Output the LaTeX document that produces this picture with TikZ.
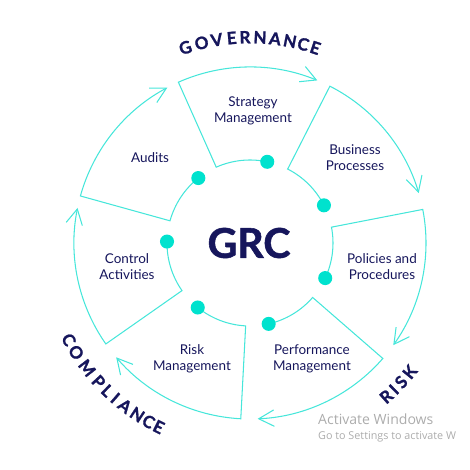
\documentclass[tikz,border=0pt]{standalone}
\usepackage{fontspec}
\setmainfont{Lato}
\newfontfamily\headfont{Lato}[BoldFeatures={FakeBold=1.3}]
\newfontfamily\wmfont{Open Sans}
\usetikzlibrary{arrows.meta}

\definecolor{grcnavy}{RGB}{22,22,92}
\definecolor{grcline}{RGB}{70,230,218}
\definecolor{grcdot}{RGB}{0,226,206}
\definecolor{wmgray}{RGB}{172,172,172}

\tikzset{
	segline/.style={draw=grcline, line width=0.9pt, -{Straight Barb[length=13pt,width=14pt]}},
	gdot/.style={circle, fill=grcdot, minimum size=12pt, inner sep=0pt},
	lbl/.style={text=grcnavy, font=\fontsize{11.5}{13.8}\selectfont, align=center},
	headch/.style={text=grcnavy, font=\headfont\fontsize{14.5}{14.5}\selectfont\bfseries, anchor=base, inner sep=0pt},
	wm/.style={text=wmgray, anchor=base west, inner sep=0pt}
}

\begin{document}
\begin{tikzpicture}[x=0.03cm, y=0.03cm]
				\useasboundingbox (-250,-227) rectangle (220,243);
				% the seven segments: inner arc, side, outer arc with arrow
				\draw[segline] (78:83) arc[start angle=78, end angle=114, radius=83] -- (114:176) arc[start angle=114, end angle=67.5, radius=176];
				\draw[segline] (27:83) arc[start angle=27, end angle=63, radius=83] -- (63:176) arc[start angle=63, end angle=16.5, radius=176];
				\draw[segline] (-25:83) arc[start angle=-25, end angle=11, radius=83] -- (11:176) arc[start angle=11, end angle=-35.5, radius=176];
				\draw[segline] (-77:83) arc[start angle=-77, end angle=-41, radius=83] -- (-41:176) arc[start angle=-41, end angle=-87.5, radius=176];
				\draw[segline] (-129:83) arc[start angle=-129, end angle=-93, radius=83] -- (-93:176) arc[start angle=-93, end angle=-139.5, radius=176];
				\draw[segline] (-181:83) arc[start angle=-181, end angle=-145, radius=83] -- (-145:176) arc[start angle=-145, end angle=-191.5, radius=176];
				\draw[segline] (128.5:83) arc[start angle=128.5, end angle=164.5, radius=83] -- (164.5:176) arc[start angle=164.5, end angle=118, radius=176];
				% dots on the inner ring
				\node[gdot] (dSM) at (78:83) {};
				\node[gdot] (dBP) at (27:83) {};
				\node[gdot] (dPP) at (-25:83) {};
				\node[gdot] (dPM) at (-77:83) {};
				\node[gdot] (dRM) at (-129:83) {};
				\node[gdot] (dCA) at (-181:83) {};
				\node[gdot] (dAU) at (128.5:83) {};
				% centre and labels
				\node[text=grcnavy, font=\headfont\fontsize{35}{35}\selectfont\bfseries] (GRC) at (-1,0) {GRC};
				\node[lbl] (SM) at (3,132) {Strategy\\Management};
				\node[lbl] (BP) at (105,85) {Business\\Processes};
				\node[lbl] (PP) at (132,-24) {Policies and\\Procedures};
				\node[lbl] (PM) at (62,-116) {Performance\\Management};
				\node[lbl] (RM) at (-58,-116) {Risk\\Management};
				\node[lbl] (CA) at (-123,-24) {Control\\Activities};
				\node[lbl] (AU) at (-100,85) {Audits};
				% curved headings
				\foreach \ch/\a [count=\i] in {G/108.3, O/103.6, V/99.3, E/95.1, R/91.4, N/87.2, A/83.0, N/78.8, C/75.0, E/71.5}
					\node[headch, rotate=\a-90] (gov\i) at (\a:199.7) {\ch};
				\foreach \ch/\a [count=\i] in {C/-151.9, O/-147.8, M/-142.5, P/-137.5, L/-134.0, I/-131.0, A/-127.5, N/-123.3, C/-119.6, E/-116.4}
					\node[headch, rotate=\a+90] (com\i) at (\a:211.5) {\ch};
				\foreach \ch/\a [count=\i] in {R/-48.4, I/-45.5, S/-42.6, K/-38.9}
					\node[headch, rotate=\a+90] (risk\i) at (\a:211.5) {\ch};
				% watermark
				\node[wm, font=\wmfont\fontsize{12}{12}\selectfont] (wm1) at (68,-181) {Activate Windows};
				\node[wm, font=\wmfont\fontsize{9.2}{9.2}\selectfont] (wm2) at (68,-196.3) {Go to Settings to activate W};
			\end{tikzpicture}
\end{document}
